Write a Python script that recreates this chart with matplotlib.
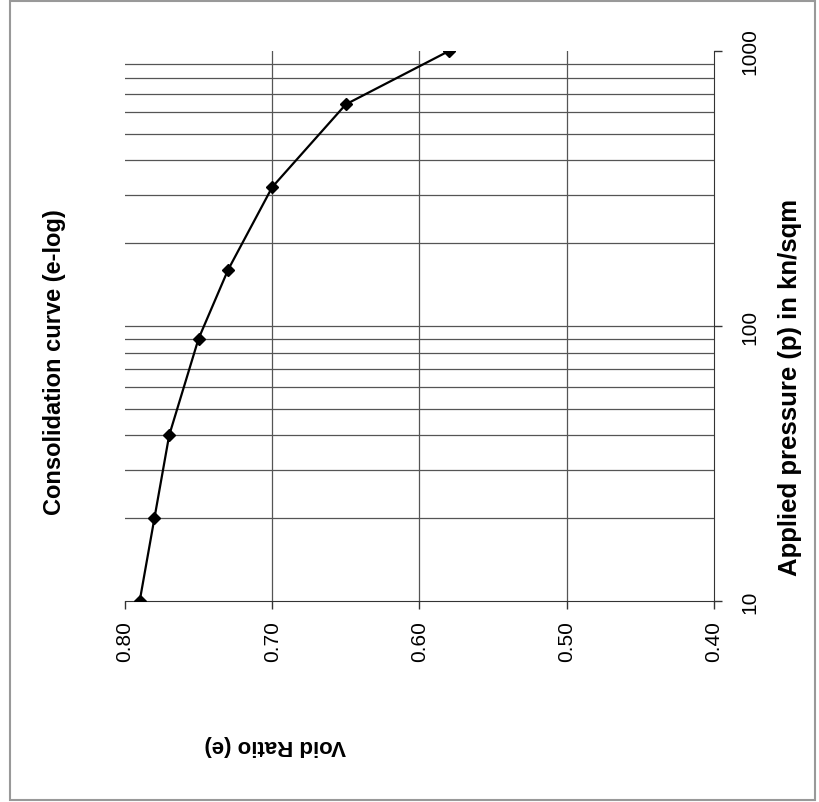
import matplotlib.pyplot as plt
import matplotlib.patches as patches
import numpy as np

pressure = [10, 20, 40, 90, 160, 320, 640, 1000]
void_ratio = [0.79, 0.78, 0.77, 0.75, 0.73, 0.70, 0.65, 0.58]
e_ticks = [0.80, 0.70, 0.60, 0.50, 0.40]
e_labels = ["0.80", "0.70", "0.60", "0.50", "0.40"]
p_ticks = [10, 100, 1000]
p_labels = ["10", "100", "1000"]

plt.rcParams['font.family'] = ['Liberation Sans', 'DejaVu Sans']

fig = plt.figure(figsize=(8.2, 8.03), dpi=100)
ax = fig.add_axes([0.1524, 0.2503, 0.7183, 0.6849])

# chart is drawn turned on its side: pressure runs up, void ratio runs left
ax.set_yscale('log')
ax.set_xlim(0.80, 0.40)
ax.set_ylim(10, 1000)

# grid lines
minor_p = [m * d for d in [10, 100] for m in range(2, 10)]
for p in minor_p + [100]:
    ax.axhline(p, color='#555555', lw=0.9, zorder=1)
for e in [0.70, 0.60, 0.50]:
    ax.axvline(e, color='#555555', lw=0.9, zorder=1)

ax.plot(void_ratio, pressure, color='black', lw=1.6, marker='D',
        markersize=6.5, zorder=3)

ax.spines['top'].set_visible(False)
ax.spines['left'].set_visible(False)
ax.spines['bottom'].set_color('#333333')
ax.spines['right'].set_color('#333333')

ax.set_xticks(e_ticks)
ax.set_xticklabels(e_labels, rotation=90)
ax.yaxis.tick_right()
ax.set_yticks(p_ticks)
ax.set_yticklabels(p_labels, rotation=90, va='center')
ax.yaxis.set_minor_locator(plt.NullLocator())
ax.tick_params(axis='both', direction='out', length=6, width=1,
               color='#333333', labelsize=15, pad=8)
ax.tick_params(axis='y', pad=13)

fig.text(0.067, 0.549, "Consolidation curve (e-log)", rotation=90,
         ha='center', va='center', fontsize=17, fontweight='bold')
fig.text(0.963, 0.517, "Applied pressure (p) in kn/sqm", rotation=90,
         ha='center', va='center', fontsize=18.5, fontweight='bold')
fig.text(0.335, 0.072, "Void Ratio (e)", rotation=180,
         ha='center', va='center', fontsize=16, fontweight='bold')

# outer chart border
fig.patches.append(patches.Rectangle((0.012, 0.003), 0.982, 0.994,
                                     transform=fig.transFigure, fill=False,
                                     edgecolor='#999999', lw=1.5))

fig.savefig("out.png", dpi=100)
